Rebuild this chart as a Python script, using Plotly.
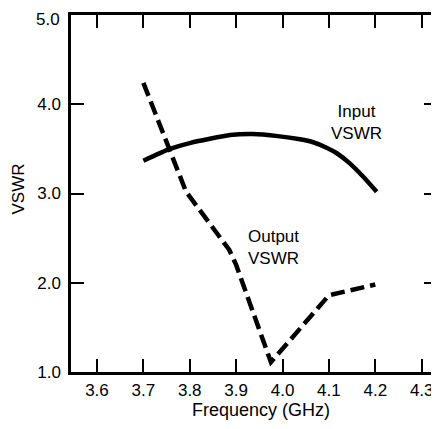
import plotly.graph_objects as go

input_freq = [3.70, 3.757, 3.80, 3.887, 3.936, 3.99, 4.0375, 4.066, 4.095, 4.117, 4.145, 4.174, 4.203]
input_vswr = [3.367, 3.499, 3.565, 3.655, 3.667, 3.643, 3.607, 3.574, 3.513, 3.451, 3.338, 3.188, 3.020]

output_freq = [3.70, 3.792, 3.885, 3.90, 3.975, 4.10, 4.20]
output_vswr = [4.24, 3.02, 2.37, 2.20, 1.11, 1.86, 1.98]

x_ticks = [3.6, 3.7, 3.8, 3.9, 4.0, 4.1, 4.2, 4.3]
y_ticks = [1.0, 2.0, 3.0, 4.0, 5.0]

FONT = "Liberation Sans, Arial, sans-serif"

fig = go.Figure()
fig.add_trace(go.Scatter(x=input_freq, y=input_vswr, mode="lines",
                         line=dict(color="black", width=4.5, shape="spline", smoothing=0.5),
                         showlegend=False))
fig.add_trace(go.Scatter(x=output_freq, y=output_vswr, mode="lines",
                         line=dict(color="black", width=4.5, dash="14px,6px"),
                         showlegend=False))

fig.add_annotation(x=4.160, y=3.79, text="Input<br>VSWR", showarrow=False,
                   font=dict(family=FONT, size=17, color="black"))
fig.add_annotation(x=3.981, y=2.39, text="Output<br>VSWR", showarrow=False,
                   font=dict(family=FONT, size=17, color="black"))

# axis titles
fig.add_annotation(xref="paper", yref="paper", x=0.52, y=-0.106, yanchor="middle",
                   text="Frequency (GHz)", showarrow=False,
                   font=dict(family=FONT, size=18, color="black"))
fig.add_annotation(xref="paper", yref="paper", x=-0.143, y=0.513, xanchor="center",
                   yanchor="middle", text="VSWR", textangle=-90, showarrow=False,
                   font=dict(family=FONT, size=17, color="black"))

# top y label drawn slightly below the top edge (as in the reference) so it is not clipped
top_val = y_ticks[-1]
fig.add_annotation(xref="paper", yref="y", x=0, y=top_val, xanchor="right",
                   yanchor="middle", xshift=-9, yshift=-4,
                   text=f"{top_val:.1f}", showarrow=False,
                   font=dict(family=FONT, size=17, color="black"))

axis_common = dict(showgrid=False, zeroline=False, showline=True, linecolor="black",
                   linewidth=2.5, mirror="ticks", ticks="inside", ticklen=13,
                   tickwidth=2, tickcolor="black", automargin=False,
                   ticklabeloverflow="allow",
                   tickfont=dict(family=FONT, size=17, color="black"))

fig.update_xaxes(range=[3.544, 4.333], tickvals=x_ticks,
                 ticktext=[f"{v:.1f}" for v in x_ticks], ticklabelstandoff=1,
                 **axis_common)
fig.update_yaxes(range=[1.0, 5.0], tickvals=y_ticks,
                 ticktext=[f"{v:.1f}" if v != top_val else "" for v in y_ticks],
                 ticklabelstandoff=4,
                 **axis_common)

# page body has an 8px default margin; size the figure so it fits the window
fig.update_layout(width=431, height=413, margin=dict(l=63, r=2, t=7, b=49),
                  plot_bgcolor="white", paper_bgcolor="white")

fig.write_html("out.html")
